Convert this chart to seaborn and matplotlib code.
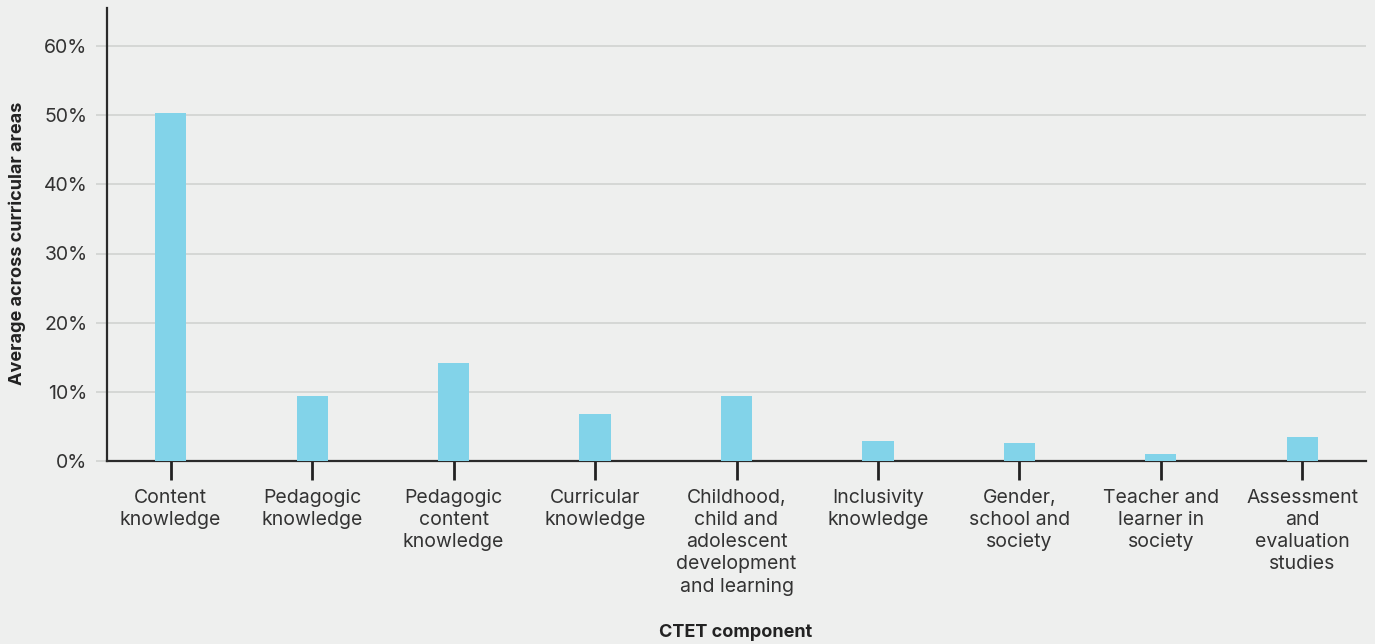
import matplotlib
matplotlib.use('Agg')
import matplotlib.pyplot as plt
import seaborn as sns
import pandas as pd
from matplotlib.ticker import PercentFormatter

# Dados do gráfico
componentes = ['Content\nknowledge', 'Pedagogic\nknowledge', 'Pedagogic\ncontent\nknowledge',
               'Curricular\nknowledge', 'Childhood,\nchild and\nadolescent\ndevelopment\nand learning',
               'Inclusivity\nknowledge', 'Gender,\nschool and\nsociety', 'Teacher and\nlearner in\nsociety',
               'Assessment\nand\nevaluation\nstudies']
valores = [50.3, 9.4, 14.2, 6.8, 9.4, 2.9, 2.6, 1.0, 3.5]

df = pd.DataFrame({'componente': componentes, 'valor': valores})

fundo = '#eeefee'
sns.set_theme(style='white')
plt.rcParams['font.family'] = ['Inter', 'DejaVu Sans']

fig = plt.figure(figsize=(13.75, 6.44), dpi=100, facecolor=fundo)
ax = fig.add_axes([107/1375, 1 - 461/644, (1366-107)/1375, (461-8)/644])
ax.set_facecolor(fundo)

sns.barplot(data=df, x='componente', y='valor', color='#82d3e9', width=0.22,
            saturation=1, linewidth=0, ax=ax, zorder=3)

ax.set_xlim(-0.45, 8.45)
ax.set_ylim(0, 60 * 453 / 415)
ax.set_yticks(range(0, 61, 10))
ax.yaxis.set_major_formatter(PercentFormatter(decimals=0))
ax.grid(axis='y', color='#d3d5d3', linewidth=1.3, zorder=0)

for lado in ['top', 'right']:
    ax.spines[lado].set_visible(False)
for lado in ['left', 'bottom']:
    ax.spines[lado].set_color('#2a2a2a')
    ax.spines[lado].set_linewidth(1.6)

ax.tick_params(axis='x', length=14, width=2, color='#222222', pad=6,
               labelsize=14, labelcolor='#333333', bottom=True)
ax.tick_params(axis='y', length=8, width=1.3, color='#d3d5d3', pad=6,
               labelsize=14, labelcolor='#333333', left=True)
for rotulo in ax.get_xticklabels():
    rotulo.set_linespacing(1.3)

ax.set_xlabel('CTET component', fontsize=13, fontweight='bold', color='#222222')
ax.xaxis.set_label_coords(0.499, -0.36)
ax.set_ylabel('Average across curricular areas', fontsize=13, fontweight='bold', color='#222222')
ax.yaxis.set_label_coords(-0.064, 0.48)

plt.savefig('out.png', dpi=100, facecolor=fundo)
